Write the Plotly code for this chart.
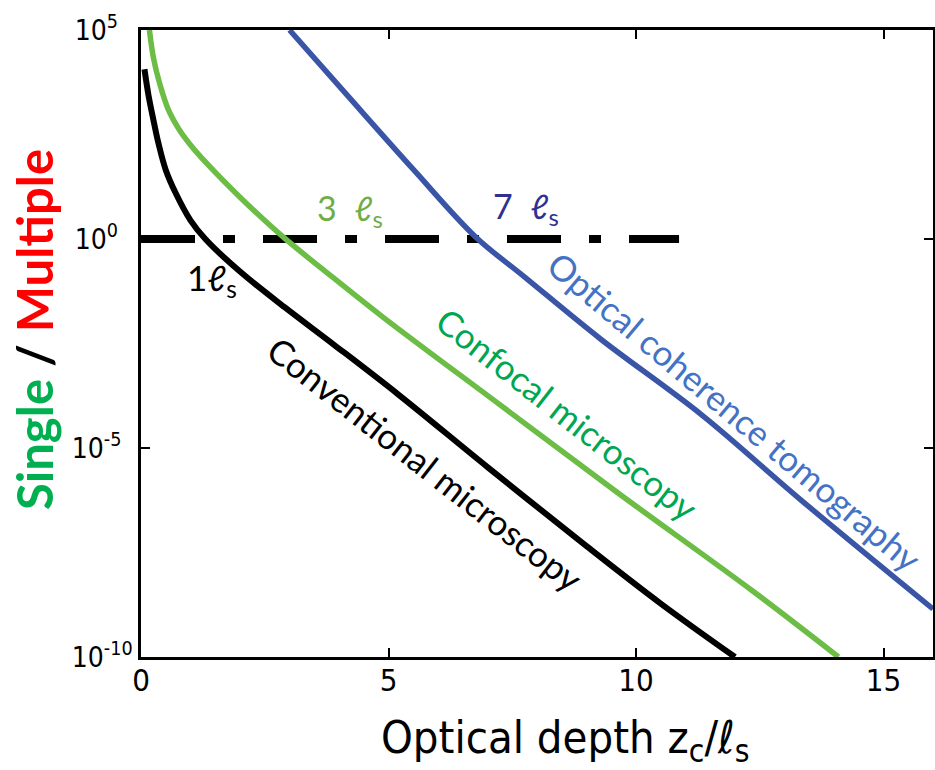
import plotly.graph_objects as go

# --- data ---
conv_x = [0.07, 0.15, 0.25, 0.35, 0.5, 0.7, 1.0, 1.3, 2.0, 2.9, 3.9, 5.2, 7.0, 9.0, 10.5, 12.0]
conv_y = [1.15e4, 2.8e3, 7.1e2, 2.0e2, 45, 12.6, 2.8, 1.0, 0.166, 2.34e-2, 2.95e-3,
          1.9e-4, 3.5e-6, 4.5e-8, 1.9e-9, 1.0e-10]

conf_x = [0.17, 0.25, 0.37, 0.55, 0.78, 1.0, 1.32, 2.0, 2.87, 3.89, 4.9, 7.2, 9.63, 12.33, 14.09]
conf_y = [1.0e5, 2.2e4, 5.6e3, 1.26e3, 4.0e2, 1.78e2, 66, 10, 1.12, 0.117, 1.32e-2,
          1.2e-4, 8.5e-7, 4.0e-9, 1.0e-10]

oct_x = [3.0, 4.16, 5.51, 6.76, 7.74, 9.29, 11.32, 13.34, 16.0]
oct_y = [1.0e5, 2.8e3, 45, 1.12, 0.126, 4.0e-3, 6.3e-5, 5.6e-7, 1.41e-9]

thresh_x = [0, 10.87]
thresh_y = [1, 1]

y_tickvals = [1e-10, 1e-5, 1, 1e5]
y_ticktext = ["10<sup>-10</sup>", "10<sup>-5\u2007</sup>", "10<sup>0\u2007\u2009</sup>", "10<sup>5\u2007\u2009</sup>"]
x_tickvals = [0, 5, 10, 15]
x_ticktext = ["0", "5", "10", "15"]

# plot-area geometry (pixels) used to place free text
L, R, T, B = 141, 933, 30, 657
W, H = R - L, B - T


def px(x):
    return (x - L) / W


def py(y):
    return (B - y) / H


fig = go.Figure()
fig.add_trace(go.Scatter(x=thresh_x, y=thresh_y, mode="lines",
                         line=dict(color="black", width=8, dash="54px,28px,12px,28px"),
                         showlegend=False, hoverinfo="skip"))
fig.add_trace(go.Scatter(x=conv_x, y=conv_y, mode="lines", line_shape="spline",
                         line=dict(color="black", width=6), showlegend=False))
fig.add_trace(go.Scatter(x=conf_x, y=conf_y, mode="lines", line_shape="spline",
                         line=dict(color="#6cbd45", width=5.5), showlegend=False))
fig.add_trace(go.Scatter(x=oct_x, y=oct_y, mode="lines", line_shape="spline",
                         line=dict(color="#3a55a6", width=5.5), showlegend=False))

label_font = "Lato"
anns = [
    dict(text="3  ℓ<sub>s</sub>", x=350, y=210, color="#70ad47", size=34, angle=0),
    dict(text="7  ℓ<sub>s</sub>", x=526, y=208, color="#2e3192", size=34, angle=0),
    dict(text="1ℓ<sub>s</sub>", x=212, y=279, color="black", size=35, angle=0),
    dict(text="Conventional microscopy", x=425, y=463, color="black", size=35, angle=38),
    dict(text="Confocal microscopy", x=567, y=413, color="#00a651", size=35, angle=38),
    dict(text="Optical coherence tomography", x=735, y=411, color="#4472c4", size=35, angle=40),
]
for a in anns:
    fig.add_annotation(text=a["text"], x=px(a["x"]), y=py(a["y"]),
                       xref="paper", yref="paper", showarrow=False,
                       xanchor="center", yanchor="middle", textangle=a["angle"],
                       font=dict(family=label_font, size=a["size"], color=a["color"]))

# y-axis title: coloured bold text
fig.add_annotation(
    text='<b><span style="color:#00b050">Single</span> / <span style="color:#ff0000">Multiple</span></b>',
    x=px(34), y=py(330), xref="paper", yref="paper", showarrow=False,
    xanchor="center", yanchor="middle", textangle=-90,
    font=dict(family="Lato", size=49, color="black"))

# x-axis title
fig.add_annotation(
    text="Optical depth z<sub>c</sub>/ℓ<sub>s</sub>",
    x=px(565), y=py(740), xref="paper", yref="paper", showarrow=False,
    xanchor="center", yanchor="middle",
    font=dict(family="Liberation Sans Narrow, DejaVu Sans Condensed, Lato", size=45, color="black"))

narrow = "Liberation Sans Narrow, DejaVu Sans Condensed, Liberation Sans"
fig.update_layout(
    width=935, height=770,
    margin=dict(l=L, r=935 - R, t=T, b=770 - B),
    paper_bgcolor="white", plot_bgcolor="white",
    xaxis=dict(range=[0, 16], tickvals=x_tickvals, ticktext=x_ticktext,
               ticks="inside", ticklen=9, tickwidth=2, tickcolor="black",
               showline=True, linecolor="black", linewidth=2.5, mirror="ticks",
               showgrid=False, zeroline=False, automargin=False,
               ticklabelstandoff=-6,
               tickfont=dict(family=narrow, size=31, color="black")),
    yaxis=dict(type="log", range=[-10, 5], tickvals=y_tickvals, ticktext=y_ticktext,
               ticks="inside", ticklen=9, tickwidth=2, tickcolor="black",
               showline=True, linecolor="black", linewidth=2.5, mirror="ticks",
               showgrid=False, zeroline=False, automargin=False,
               tickfont=dict(family=narrow, size=28, color="black")),
)

fig.write_html("out.html", config={"displayModeBar": False},
               post_script="document.body.style.margin='0px';")
